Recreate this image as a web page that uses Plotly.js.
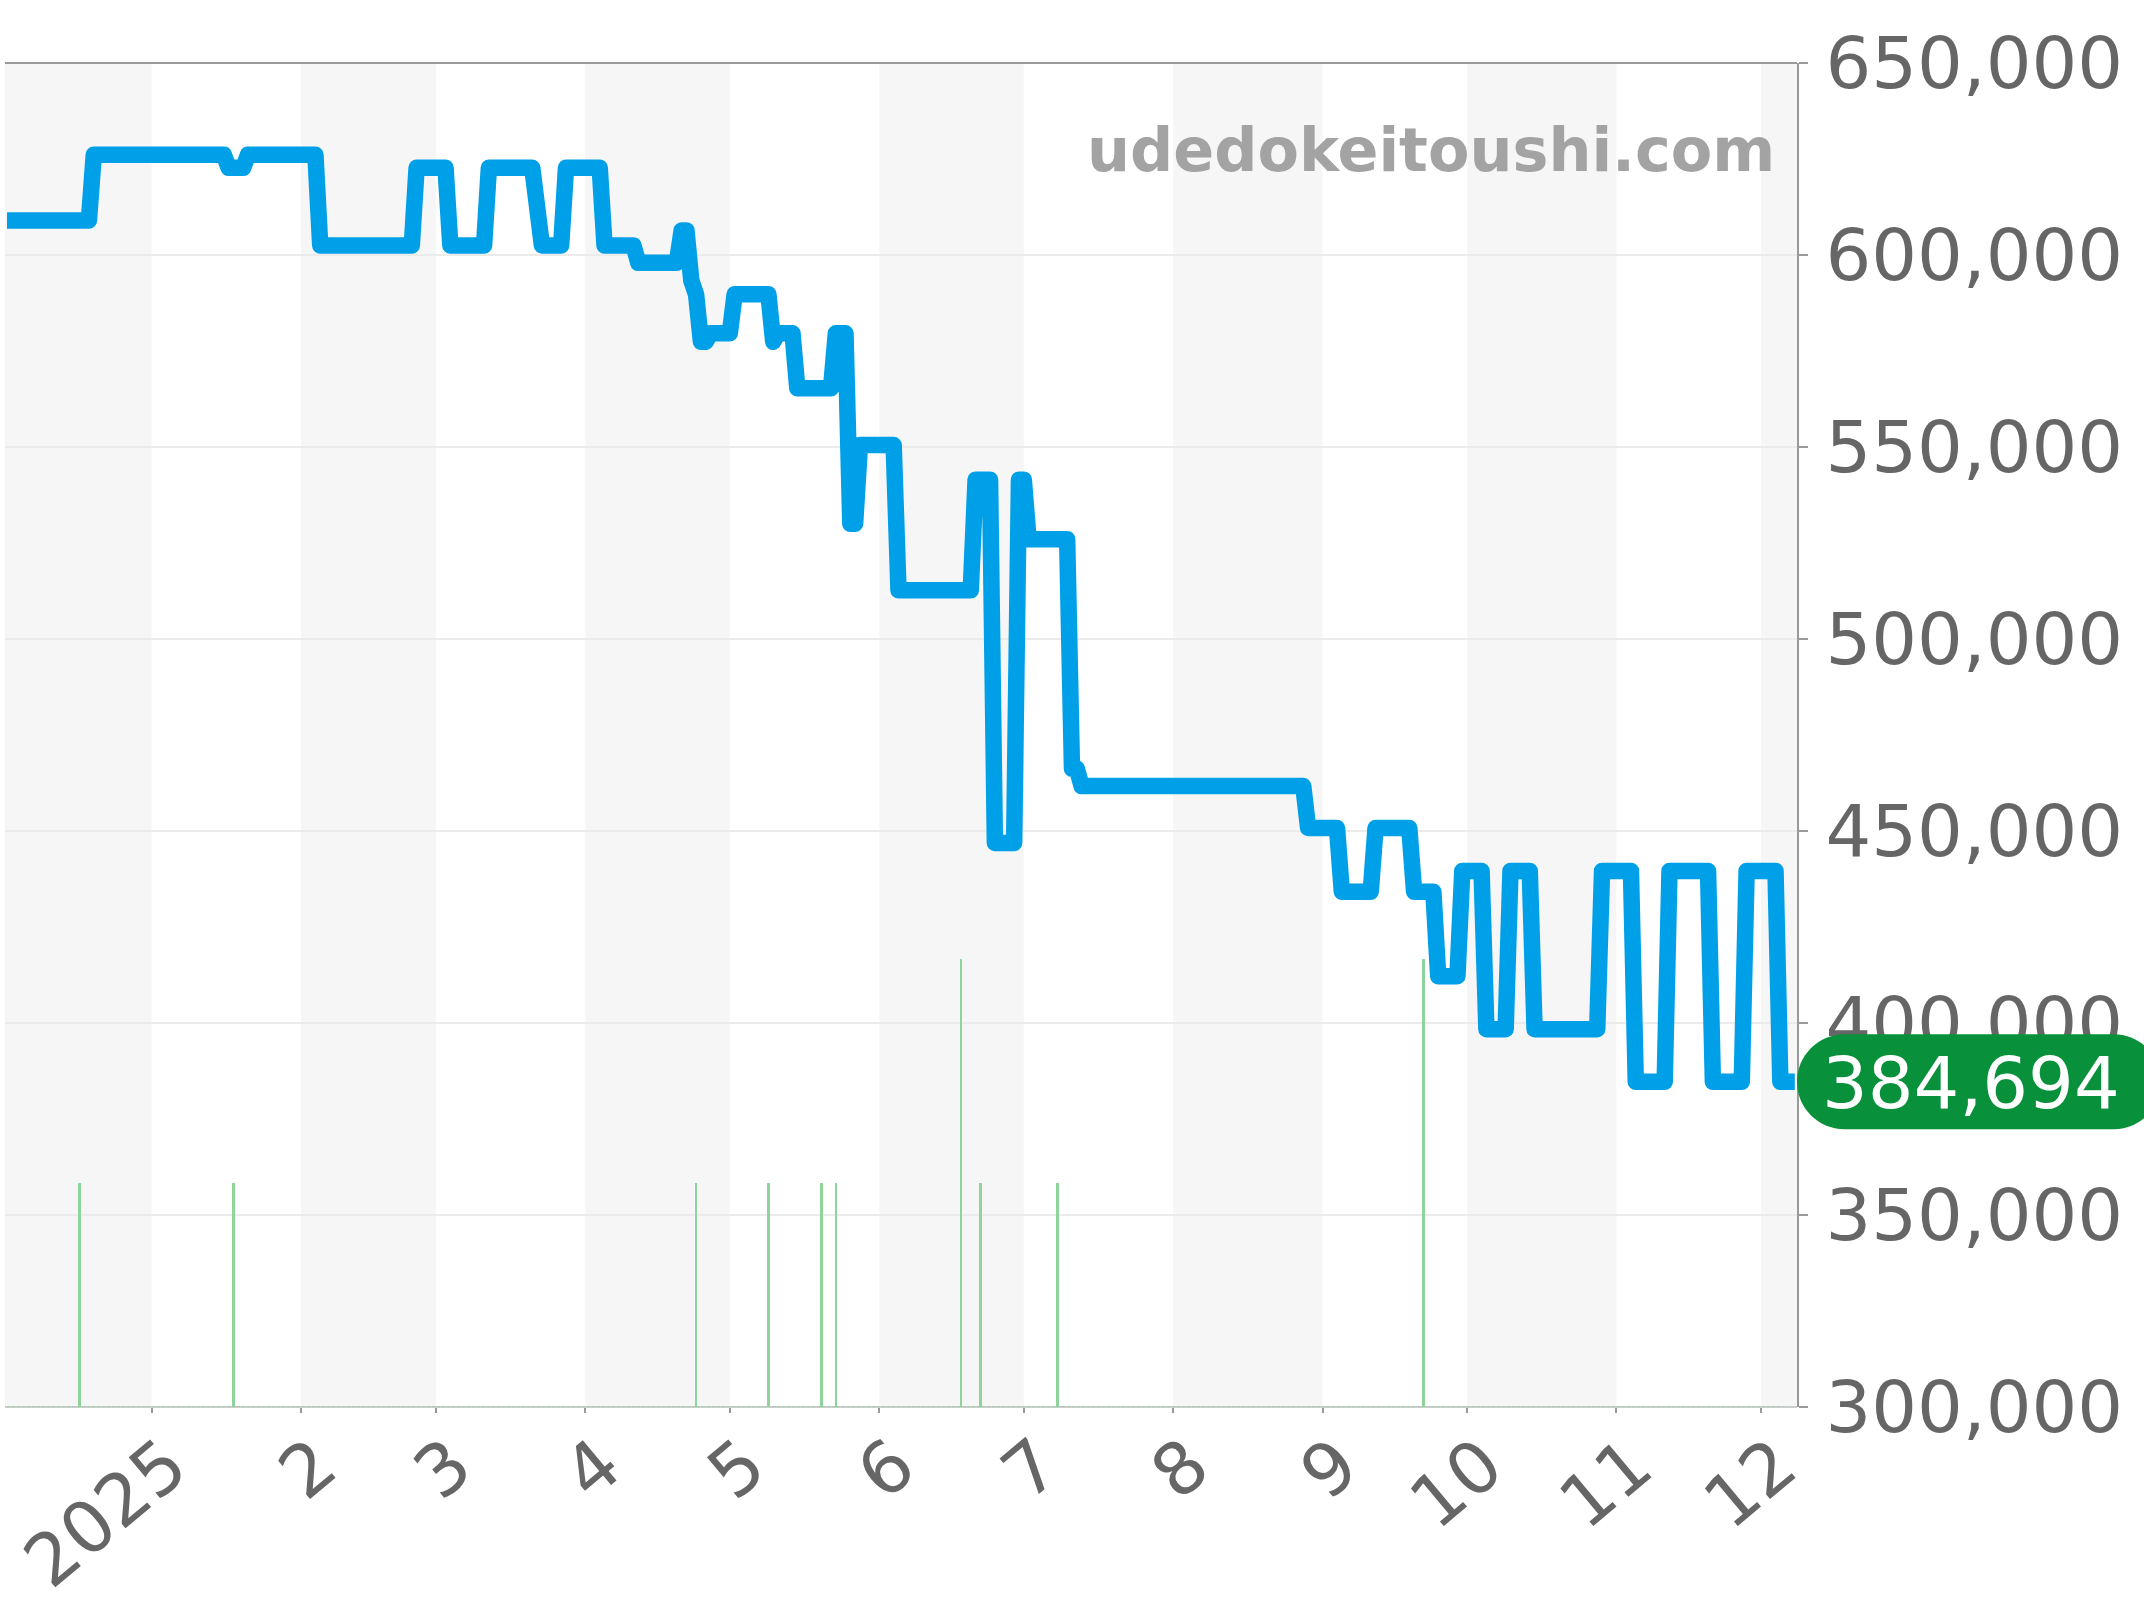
<!DOCTYPE html>
<html>
<head>
<meta charset="utf-8">
<script src="https://cdn.plot.ly/plotly-3.0.1.min.js"></script>
<style>
  html, body { margin: 0; padding: 0; background: #fff; }
  #chart { width: 2144px; height: 1600px; }
  /* plotly has no option for this, the price line needs rounded corners */
  #chart .js-line { stroke-linejoin: round; }
</style>
</head>
<body>
<div id="chart"></div>
<script>
// price line, one entry per corner of the step shape
const priceDates = [
  '2024-12-02','2024-12-19','2024-12-20','2025-01-16','2025-01-17','2025-01-20','2025-01-21',
  '2025-02-04','2025-02-05','2025-02-24','2025-02-25','2025-03-03','2025-03-04','2025-03-11',
  '2025-03-12','2025-03-21','2025-03-23','2025-03-27','2025-03-28','2025-04-04','2025-04-05',
  '2025-04-11','2025-04-12','2025-04-20','2025-04-21','2025-04-22','2025-04-23','2025-04-24',
  '2025-04-25','2025-04-26','2025-04-27','2025-05-01','2025-05-02','2025-05-09','2025-05-10',
  '2025-05-11','2025-05-14','2025-05-15','2025-05-22','2025-05-23','2025-05-25','2025-05-26',
  '2025-05-27','2025-05-28','2025-06-04','2025-06-05','2025-06-20','2025-06-21','2025-06-24',
  '2025-06-25','2025-06-29','2025-06-30','2025-07-01','2025-07-02','2025-07-10','2025-07-11',
  '2025-07-12','2025-07-13','2025-08-28','2025-08-29','2025-09-04','2025-09-05','2025-09-11',
  '2025-09-12','2025-09-19','2025-09-20','2025-09-24','2025-09-25','2025-09-29','2025-09-30',
  '2025-10-04','2025-10-05','2025-10-09','2025-10-10','2025-10-14','2025-10-15','2025-10-28',
  '2025-10-29','2025-11-04','2025-11-05','2025-11-11','2025-11-12','2025-11-20','2025-11-21',
  '2025-11-27','2025-11-28','2025-12-04','2025-12-05','2025-12-08'
];
const priceValues = [
  609000,609000,626100,626100,622700,622700,626100,
  626100,602500,602500,622700,622700,602500,602500,
  622700,622700,602500,602500,622700,622700,602500,
  602500,598000,598000,606400,606400,593400,589700,
  577400,577400,579600,579600,589800,589800,577400,
  579600,579600,565300,565300,579600,579600,530000,
  530000,550500,550500,512700,512700,541500,541500,
  446900,446900,541500,541500,526000,526000,466200,
  466200,461700,461700,450800,450800,434200,434200,
  450800,450800,434200,434200,412200,412200,439600,
  439600,398400,398400,439600,439600,398400,398400,
  439600,439600,384694,384694,439600,439600,384694,
  384694,439600,439600,384694,384694
];

// thin green bars along the bottom (counts on a hidden axis)
const barDates = ['2024-12-17','2025-01-18','2025-04-24','2025-05-09','2025-05-20',
                  '2025-05-23','2025-06-18','2025-06-22','2025-07-08','2025-09-22'];
const barCounts = [1,1,1,1,1,1,2,1,1,2];
const baseDates = ['2024-12-02','2025-12-05 12:00'];
const baseCounts = [0,0];

const monthTicks = ['2025-01-01','2025-02-01','2025-03-01','2025-04-01','2025-05-01','2025-06-01',
                    '2025-07-01','2025-08-01','2025-09-01','2025-10-01','2025-11-01','2025-12-01'];
const monthLabels = ['2025','2','3','4','5','6','7','8','9','10','11','12'];

// every other month is shaded
const bandStarts = ['2024-12-01','2025-02-01','2025-04-01','2025-06-01','2025-08-01','2025-10-01','2025-12-01'];
const bandEnds   = ['2025-01-01','2025-03-01','2025-05-01','2025-07-01','2025-09-01','2025-11-01','2025-12-09'];

const xRange = ['2024-12-01 14:00','2025-12-08 11:00'];
const yRange = [300000, 650000];
const lastPrice = 384694;
const watermark = 'udedokeitoushi.com';

const FONT = 'DejaVu Sans, sans-serif';
const TICK_COLOR = '#999999';
const TEXT_COLOR = '#666666';
const BAR_COLOR = '#8fd49c';

const traces = [
  {
    x: barDates, y: barCounts, yaxis: 'y2', type: 'bar',
    width: 46000000,
    marker: { color: BAR_COLOR, line: { width: 0 } },
    hoverinfo: 'skip',
  },
  {
    x: baseDates, y: baseCounts, yaxis: 'y2', type: 'scatter', mode: 'lines',
    opacity: 0.7,
    line: { color: BAR_COLOR, width: 2, dash: '3px,2px' },
    hoverinfo: 'skip',
  },
  {
    x: priceDates, y: priceValues, type: 'scatter', mode: 'lines',
    line: { color: '#00a0e9', width: 16.5, simplify: false },
    hoverinfo: 'skip',
  },
];

const bands = bandStarts.map((s, i) => ({
  type: 'rect', layer: 'below', xref: 'x', yref: 'paper',
  x0: s, x1: bandEnds[i], y0: 0, y1: 1,
  fillcolor: '#f6f6f6', line: { width: 0 },
}));

// frame: plotly's mirror would give both lines the same colour
const topLine = {
  type: 'line', layer: 'above', xref: 'paper', yref: 'paper',
  x0: 0, x1: 1, y0: 1, y1: 1, line: { color: TICK_COLOR, width: 2 },
};
const bottomLine = {
  type: 'line', layer: 'below', xref: 'paper', yref: 'paper',
  x0: 0, x1: 1, y0: 0, y1: 0, line: { color: '#cccccc', width: 2 },
};

// last price pill: anchored to the value, sized in pixels
const pill = {
  type: 'path', layer: 'above', xref: 'paper', yref: 'y',
  xsizemode: 'pixel', ysizemode: 'pixel', xanchor: 1, yanchor: lastPrice,
  path: 'M 47.5 -47.5 L 317 -47.5 C 343 -47.5 364 -26 364 0 C 364 26 343 47.5 317 47.5 L 47.5 47.5 C 21 47.5 0 26 0 0 C 0 -26 21 -47.5 47.5 -47.5 Z',
  fillcolor: '#08913a', line: { width: 0 },
};

const layout = {
  width: 2144, height: 1600,
  margin: { l: 4.5, r: 347, t: 63, b: 193, pad: 0 },
  paper_bgcolor: '#fff', plot_bgcolor: 'rgba(0,0,0,0)',
  font: { family: FONT, size: 72, color: TEXT_COLOR },
  showlegend: false,
  hovermode: false,
  bargap: 0,
  xaxis: {
    type: 'date', range: xRange,
    tickmode: 'array', tickvals: monthTicks, ticktext: monthLabels,
    tickangle: -40, tickfont: { size: 72, color: TEXT_COLOR },
    ticks: 'outside', ticklen: 5, tickwidth: 2, tickcolor: TICK_COLOR,
    ticklabelstandoff: -18, ticklabelshift: 17,
    showgrid: false, zeroline: false, showline: false,
  },
  yaxis: {
    side: 'right', range: yRange, dtick: 50000, tickformat: ',d',
    tickfont: { size: 72, color: TEXT_COLOR },
    ticks: 'outside', ticklen: 9, tickwidth: 2, tickcolor: TICK_COLOR,
    ticklabelstandoff: 3,
    showline: true, linecolor: TICK_COLOR, linewidth: 2,
    showgrid: true, gridcolor: '#ebebeb', gridwidth: 1.5, zeroline: false,
  },
  yaxis2: {
    overlaying: 'y', side: 'left', range: [0, 6],
    visible: false, showgrid: false, zeroline: false,
  },
  shapes: bands.concat([bottomLine, topLine, pill]),
  annotations: [
    {
      xref: 'paper', yref: 'y', x: 1, y: lastPrice, xanchor: 'left', yanchor: 'middle',
      xshift: 23, yshift: -1, showarrow: false, text: lastPrice.toLocaleString('en-US'),
      font: { family: FONT, size: 72, color: '#ffffff' },
    },
    {
      xref: 'paper', yref: 'paper', x: 0.989, y: 0.9355, xanchor: 'right', yanchor: 'middle',
      showarrow: false, text: '<b>' + watermark + '</b>',
      font: { family: FONT, size: 60.4, color: '#a3a3a3' },
    },
  ],
};

Plotly.newPlot('chart', traces, layout, { displayModeBar: false, staticPlot: true });
</script>
</body>
</html>
